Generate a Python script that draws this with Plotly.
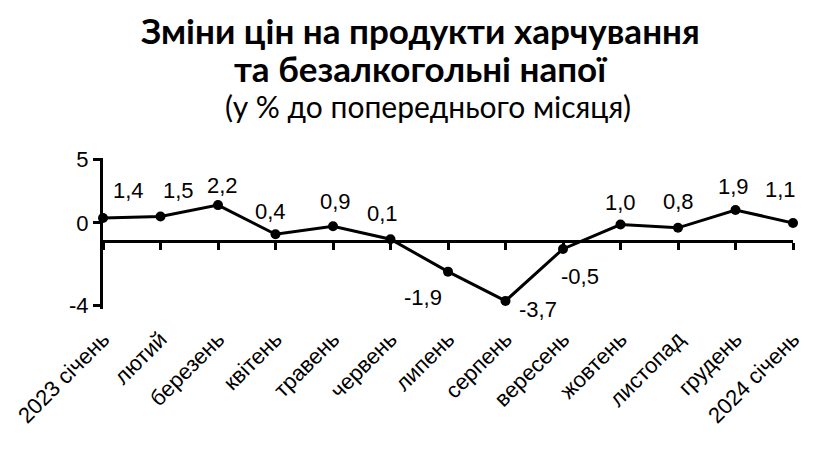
import plotly.graph_objects as go

months = ["2023 січень", "лютий", "березень", "квітень", "травень", "червень",
          "липень", "серпень", "вересень", "жовтень", "листопад", "грудень",
          "2024 січень"]
values = [1.4, 1.5, 2.2, 0.4, 0.9, 0.1, -1.9, -3.7, -0.5, 1.0, 0.8, 1.9, 1.1]

y_tickvals = [5, 1.1, -4]
y_ticktext = ["5", "0", "-4"]

# label offsets (pixels) relative to each point
label_dx = [25, 18, 4, -5, 2, -8, -25, 32, 17, 0, 0, -2, -13]
label_dy = [-28, -26, -20, -23, -25, -26, 26, 9, 28, -22, -26, -23, -33]

x_idx = list(range(len(months)))
FONT = "Liberation Sans, Arial, sans-serif"
FS = 22

fig = go.Figure()
fig.add_trace(go.Scatter(
    x=x_idx, y=values, mode="lines+markers",
    line=dict(color="black", width=3),
    marker=dict(color="black", size=10),
    cliponaxis=False, showlegend=False, hoverinfo="skip"))
# invisible trace for the zero-crossing axis
fig.add_trace(go.Scatter(x=x_idx, y=values, xaxis="x2", mode="markers",
                         marker=dict(opacity=0), showlegend=False, hoverinfo="skip"))

ymin, ymax = -4.2, 5.1
annotations = []
for i, v in enumerate(values):
    annotations.append(dict(
        x=i, y=v, xref="x", yref="y", text=f"{v:.1f}".replace(".", ","),
        showarrow=False, xshift=label_dx[i], yshift=-label_dy[i],
        font=dict(family=FONT, size=FS, color="black")))

TFONT = "Lato, Open Sans, sans-serif"
annotations += [
    dict(x=420, y=30, xref="paper", yref="paper", text="<b>Зміни цін на продукти харчування</b>",
         showarrow=False, font=dict(family=TFONT, size=35, color="black")),
    dict(x=420, y=68, xref="paper", yref="paper", text="<b>та безалкогольні напої</b>",
         showarrow=False, font=dict(family=TFONT, size=35, color="black")),
    dict(x=428, y=106, xref="paper", yref="paper", text="(у % до попереднього місяця)",
         showarrow=False, font=dict(family=TFONT, size=30, color="black")),
]

W, H = 822, 457
ml, mr, mt, mb = 103, 29, 158, 148
pw, ph = W - ml - mr, H - mt - mb
for a in annotations[-3:]:
    a["x"] = (a["x"] - ml) / pw
    a["y"] = 1 - (a["y"] - mt) / ph
    a["xanchor"] = "center"
    a["yanchor"] = "middle"

fig.update_layout(
    width=W, height=H, margin=dict(l=ml, r=mr, t=mt, b=mb),
    paper_bgcolor="white", plot_bgcolor="white",
    annotations=annotations,
    xaxis=dict(range=[0, 12], tickvals=x_idx, ticktext=months, tickangle=-45,
               showline=False, ticks="", showgrid=False, zeroline=False,
               ticklabelstandoff=12,
               tickfont=dict(family=FONT, size=FS, color="black")),
    xaxis2=dict(range=[0, 12], overlaying="x", anchor="free",
                position=(0 - ymin) / (ymax - ymin), side="bottom",
                showline=True, linewidth=3, linecolor="black",
                ticks="outside", ticklen=7, tickwidth=3, tickcolor="black",
                tickvals=x_idx, showticklabels=False, showgrid=False, zeroline=False),
    yaxis=dict(range=[ymin, ymax], tickvals=y_tickvals, ticktext=y_ticktext,
               showline=True, linewidth=3, linecolor="black",
               ticks="outside", ticklen=7, tickwidth=3, tickcolor="black",
               showgrid=False, zeroline=False, ticklabelstandoff=0,
               tickfont=dict(family=FONT, size=FS, color="black")),
)

fig.write_html("out.html")
